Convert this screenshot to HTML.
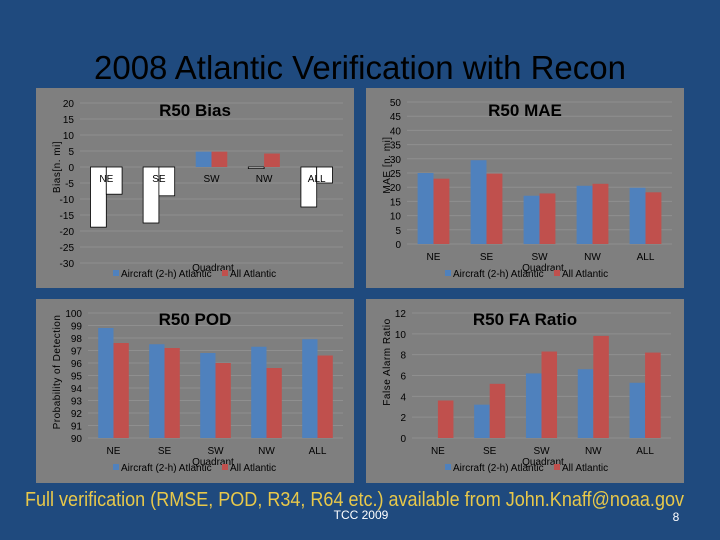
<!DOCTYPE html>
<html><head><meta charset="utf-8"><style>
html,body{margin:0;padding:0;background:#1f4a7e;}
svg{display:block;font-family:"Liberation Sans",sans-serif;}
</style></head><body>
<svg id="s" width="720" height="540" viewBox="0 0 720 540">
<rect x="0" y="0" width="720" height="540" fill="#1f4a7e"/>
<text x="360" y="79" text-anchor="middle" font-size="33" fill="#000">2008 Atlantic Verification with Recon</text>
<text x="25" y="506" font-size="20" fill="#e8c84a" textLength="659" lengthAdjust="spacingAndGlyphs">Full verification (RMSE, POD, R34, R64 etc.) available from John.Knaff@noaa.gov</text>
<text x="361" y="519" text-anchor="middle" font-size="12" fill="#fff">TCC 2009</text>
<text x="676" y="521" text-anchor="middle" font-size="12" fill="#fff">8</text>
<g id="charts"></g>
</svg>
<script>
const categories = ["NE","SE","SW","NW","ALL"];
const biasAircraft = [-18.8,-17.5,4.8,-0.5,-12.5];
const biasAll = [-8.5,-9.0,4.8,4.2,-5.0];
const biasTicks = [20,15,10,5,0,-5,-10,-15,-20,-25,-30];
const maeAircraft = [25.0,29.5,17.0,20.5,19.8];
const maeAll = [23.0,24.8,17.8,21.2,18.2];
const maeTicks = [50,45,40,35,30,25,20,15,10,5,0];
const podAircraft = [98.8,97.5,96.8,97.3,97.9];
const podAll = [97.6,97.2,96.0,95.6,96.6];
const podTicks = [100,99,98,97,96,95,94,93,92,91,90];
const faAircraft = [0,3.2,6.2,6.6,5.3];
const faAll = [3.6,5.2,8.3,9.8,8.2];
const faTicks = [12,10,8,6,4,2,0];

const NS="http://www.w3.org/2000/svg";
const root=document.getElementById('charts');
function mk(tag,attrs,parent,txt){const e=document.createElementNS(NS,tag);for(const k in attrs)e.setAttribute(k,attrs[k]);if(txt!==undefined)e.textContent=txt;(parent||root).appendChild(e);return e;}

function chart(o){
  const g=mk('g',{});
  
  
  const p=mk('rect',{x:o.px,y:o.py,width:o.pw,height:o.ph,fill:'#7f7f7f'},g);
  
  
  const ymin=o.ticks[o.ticks.length-1], ymax=o.ticks[0];
  const y=v=>o.y0+(ymax-v)/(ymax-ymin)*(o.y1-o.y0);
  const band=(o.x1-o.x0)/categories.length;
  const xc=i=>o.x0+band*(i+0.5);
  o.ticks.forEach(t=>{
    const l=mk('line',{x1:o.x0,x2:o.x1,y1:y(t),y2:y(t),stroke:'#8f8f8f','stroke-width':1},g);
    
    
    const tx=mk('text',{x:o.x0-6,y:y(t)+4,'text-anchor':'end','font-size':10,fill:'#000'},g,String(t));
    
    
  });
  const base=Math.max(ymin,Math.min(ymax,0));
  const bw=band*0.3;
  [[o.a,'#4f81bd'],[o.b,'#c0504d']].forEach((s,si)=>{
    s[0].forEach((v,i)=>{
      const x=xc(i)-bw+si*bw;
      const ya=y(v), yb=y(base);
      const neg=v<0 && o.invert;
      const r=mk('rect',{x:x,y:Math.min(ya,yb),width:bw,height:Math.abs(yb-ya),fill:neg?'#fff':s[1],stroke:neg?'#000':'none','stroke-width':neg?0.8:0},g);
      
      
    });
  });
  categories.forEach((c,i)=>{
    const t=mk('text',{x:xc(i),y:o.catY,'text-anchor':'middle','font-size':10,fill:'#000'},g,c);
    
    
  });
  const ti=mk('text',{x:o.titleX,y:o.titleY,'text-anchor':'middle','font-size':17,'font-weight':'bold',fill:'#000'},g,o.title);
  
  
  const yl=mk('text',{x:0,y:0,'text-anchor':'middle','font-size':10,fill:'#000','letter-spacing':'0.5',transform:`translate(${o.ylx},${o.yly}) rotate(-90)`},g,o.ylabel);
  
  
  const q=mk('text',{x:o.qx,y:o.legY-5,'text-anchor':'middle','font-size':10,fill:'#000'},g,'Quadrant');
  
  
  const m1=mk('rect',{x:o.lx,y:o.legY-6,width:6,height:6,fill:'#4f81bd'},g);
  
  
  const l1=mk('text',{x:o.lx+8,y:o.legY+1,'font-size':10,fill:'#000'},g,'Aircraft (2-h) Atlantic');
  
  
  const m2=mk('rect',{x:o.lx+109,y:o.legY-6,width:6,height:6,fill:'#c0504d'},g);
  
  
  const l2=mk('text',{x:o.lx+117,y:o.legY+1,'font-size':10,fill:'#000'},g,'All Atlantic');
  
  
}
chart({name:'bias-chart',px:36,py:88,pw:318,ph:200,x0:80,x1:343,y0:103,y1:263,ticks:biasTicks,a:biasAircraft,b:biasAll,invert:true,catY:182,title:'R50 Bias',titleX:195,titleY:116,ylabel:'Bias[n. mi]',ylx:60,yly:167,qx:213,legY:276,lx:113});
chart({name:'mae-chart',px:366,py:88,pw:318,ph:200,x0:407,x1:672,y0:102,y1:244,ticks:maeTicks,a:maeAircraft,b:maeAll,catY:260,title:'R50 MAE',titleX:525,titleY:116,ylabel:'MAE [n. mi]',ylx:390,yly:165,qx:543,legY:276,lx:445});
chart({name:'pod-chart',px:36,py:299,pw:318,ph:184,x0:88,x1:343,y0:313,y1:438,ticks:podTicks,a:podAircraft,b:podAll,catY:454,title:'R50 POD',titleX:195,titleY:325,ylabel:'Probability of Detection',ylx:60,yly:372,qx:213,legY:470,lx:113});
chart({name:'fa-ratio-chart',px:366,py:299,pw:318,ph:184,x0:412,x1:671,y0:313,y1:438,ticks:faTicks,a:faAircraft,b:faAll,catY:454,title:'R50 FA Ratio',titleX:525,titleY:325,ylabel:'False Alarm Ratio',ylx:390,yly:362,qx:543,legY:470,lx:445});
</script>
</body></html>
